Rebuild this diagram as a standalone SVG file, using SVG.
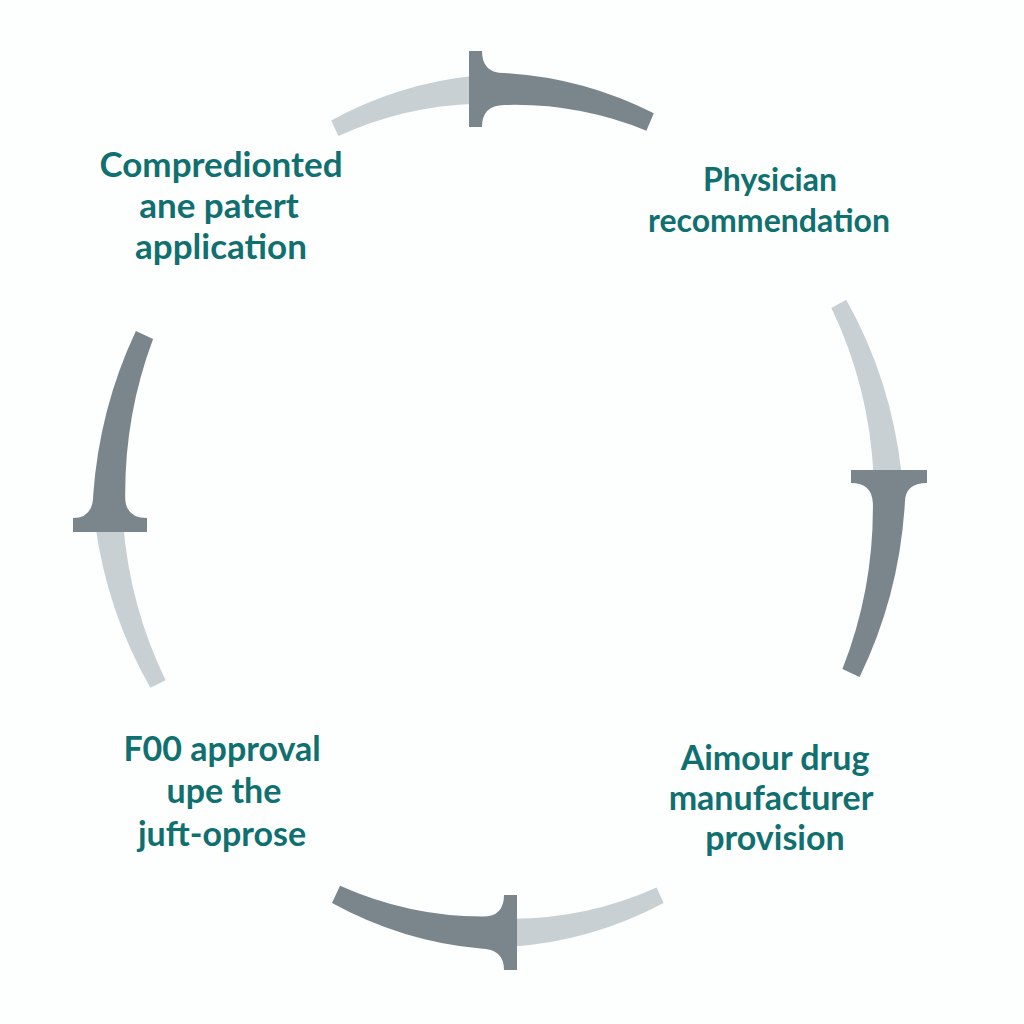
<svg xmlns="http://www.w3.org/2000/svg" width="1024" height="1024" viewBox="0 0 1024 1024">
<style>
.light{fill:#c9d0d3}
.dark{fill:#7b868c}
.lbl{font-family:Lato,"Liberation Sans",sans-serif;font-weight:700;font-size:32px;fill:#10706f;text-anchor:middle}
.big{font-size:35px}
.mid{font-size:34px}
</style>
<rect width="1024" height="1024" fill="#fdfefe"/>
<g id="connectors">
<g id="arc-top">
<path class="light" d="M331.2,120.5 A401,433 0 0 1 474.7,75.8 L476.4,103.7 A379,411 0 0 0 338.4,136 Z"/>
<path class="dark" d="M469,51 L482,51 Q482,73.4 504.7,73 A403,435 0 0 1 653.8,113.2 L646.4,130.7 A377,409 0 0 0 504.2,105 Q482,105.4 482,127 L469,127 Z"/>
</g>
<g id="arc-right">
<path class="light" d="M846.2,299.7 A401,433 0 0 1 901.5,473 L873.6,475.4 A379,411 0 0 0 831.4,308 Z"/>
<path class="dark" d="M851,470 L927,470 L927,483 Q905,483 904.9,502.6 A403,435 0 0 1 859.6,677 L842.4,669 A377,409 0 0 0 872.9,503.2 Q872,483 851,483 Z"/>
</g>
<g id="arc-bottom">
<path class="light" d="M663.6,903.1 A401,433 0 0 1 511,946.8 L510.2,918.8 A379,411 0 0 0 656.6,887.6 Z"/>
<path class="dark" d="M517,895 L517,970 L504,970 Q504,949 480.6,948.6 A403,435 0 0 1 332,903 L340,885.8 A377,409 0 0 0 482,916.6 Q504,917 504,895 Z"/>
</g>
<g id="arc-left">
<path class="light" d="M150.4,687.8 A401,433 0 0 1 95.2,524.7 L123.2,523.8 A379,411 0 0 0 165.6,680.2 Z"/>
<path class="dark" d="M147,532 L73,532 L73,518 Q93,518 93.2,495.3 A403,435 0 0 1 135.9,331.1 L153.1,339 A377,409 0 0 0 125.2,496.5 Q125,518 147,518 Z"/>
</g>
</g>
<g id="node-patent">
<text class="lbl big" x="221" y="177">Compredionted</text>
<text class="lbl big" x="219" y="218">ane patert</text>
<text class="lbl big" x="221" y="259">application</text>
</g>
<g id="node-physician">
<text class="lbl" x="770" y="191">Physician</text>
<text class="lbl" x="769" y="232">recommendation</text>
</g>
<g id="node-manufacturer">
<text class="lbl mid" x="775" y="770">Aimour drug</text>
<text class="lbl mid" x="771" y="810">manufacturer</text>
<text class="lbl mid" x="775" y="850">provision</text>
</g>
<g id="node-fda">
<text class="lbl mid" x="222" y="761">F00 approval</text>
<text class="lbl mid" x="224" y="803">upe the</text>
<text class="lbl mid" x="222" y="846">juft-oprose</text>
</g>
</svg>
